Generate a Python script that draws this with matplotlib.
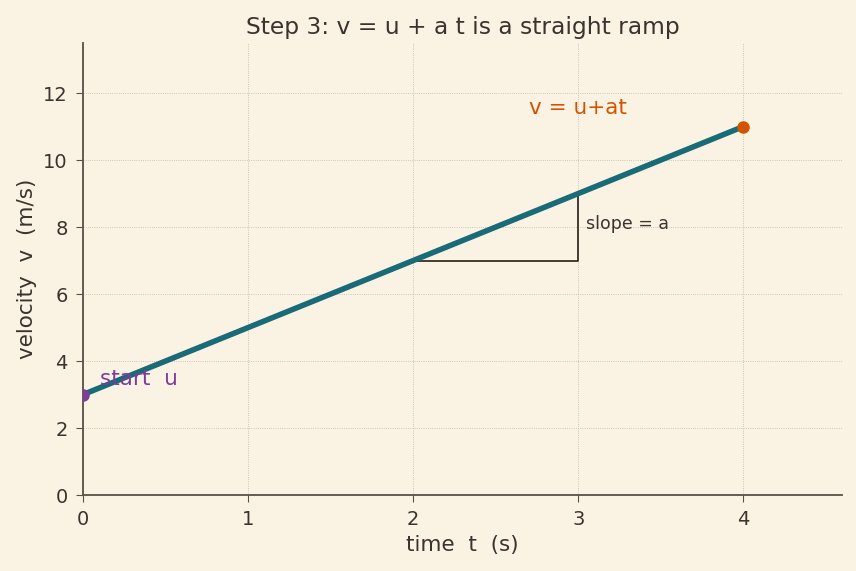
import numpy as np
import matplotlib.pyplot as plt

# motion data: v = u + a t
u = 3.0
a = 2.0
t = np.array([0.0, 4.0])
v = u + a * t

# slope triangle corners
tri_t = [2.0, 3.0, 3.0]
tri_v = [7.0, 7.0, 9.0]

bg = '#faf3e4'
ink = '#3b342e'
teal = '#1a6b78'
purple = '#7d3c98'
orange = '#d35400'

plt.rcParams['font.family'] = 'DejaVu Sans'
plt.rcParams['text.color'] = ink
plt.rcParams['axes.labelcolor'] = ink
plt.rcParams['xtick.color'] = ink
plt.rcParams['ytick.color'] = ink

fig, ax = plt.subplots(figsize=(8.56, 5.71), dpi=100)
fig.patch.set_facecolor(bg)
ax.set_facecolor(bg)
fig.subplots_adjust(left=0.097, right=0.984, top=0.925, bottom=0.133)

ax.plot(t, v, color=teal, lw=4, solid_capstyle='butt', zorder=3)
ax.plot(t[0], v[0], 'o', color=purple, ms=8, zorder=4)
ax.plot(t[-1], v[-1], 'o', color=orange, ms=8, zorder=4)
ax.plot(tri_t, tri_v, color='#3a2e26', lw=1.3, zorder=2)

ax.text(3.05, 8.1, 'slope = a', fontsize=12.5, color=ink, va='center')
ax.text(2.7, 11.55, 'v = u+at', fontsize=15.5, color=orange, va='center')
ax.text(0.1, 3.45, 'start  u', fontsize=15.5, color=purple, va='center')

ax.set_xlim(0, 4.6)
ax.set_ylim(0, 13.5)
ax.set_xticks([0, 1, 2, 3, 4])
ax.set_yticks([0, 2, 4, 6, 8, 10, 12])
ax.tick_params(labelsize=14, color='#5a5045', length=5, pad=6)
ax.grid(True, linestyle=':', color='#bdb5a5', lw=0.6)
for s in ['top', 'right']:
    ax.spines[s].set_visible(False)
for s in ['left', 'bottom']:
    ax.spines[s].set_color('#5a5045')
    ax.spines[s].set_linewidth(1.3)

ax.set_title('Step 3: v = u + a t is a straight ramp', fontsize=16.8)
ax.set_xlabel('time  t  (s)', fontsize=15.5)
ax.set_ylabel('velocity  v  (m/s)', fontsize=15.5)

fig.savefig('out.png', dpi=100, facecolor=bg)
